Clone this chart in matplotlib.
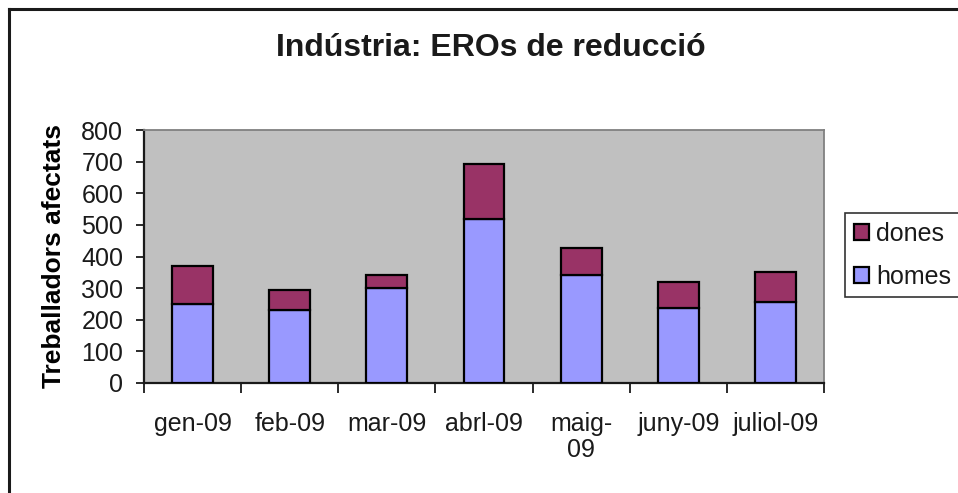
import matplotlib
matplotlib.use("Agg")
import matplotlib.pyplot as plt
import numpy as np
from matplotlib.lines import Line2D

plt.rcParams['font.family'] = ['Liberation Sans', 'DejaVu Sans']
plt.rcParams['text.color'] = '#1a1a1a'
plt.rcParams['xtick.labelcolor'] = '#1a1a1a'
plt.rcParams['ytick.labelcolor'] = '#1a1a1a'

# data
months = ["gen-09", "feb-09", "mar-09", "abrl-09", "maig-\n09", "juny-09", "juliol-09"]
homes = [251, 231, 300, 517, 340, 236, 256]
dones = [120, 63, 40, 177, 88, 84, 95]

fig = plt.figure(figsize=(9.58, 4.93), dpi=100)
ax = fig.add_axes([144 / 958, 1 - 383 / 493, 680 / 958, 253 / 493])
ax.set_facecolor("#C0C0C0")

x = np.arange(len(months))
w = 0.42
ax.bar(x, homes, w, color="#9999FF", edgecolor="black", linewidth=1.6, label="homes", zorder=3)
ax.bar(x, dones, w, bottom=homes, color="#993366", edgecolor="black", linewidth=1.6, label="dones", zorder=3)

ax.set_xlim(-0.5, len(months) - 0.5)
ax.set_ylim(0, 800)
ax.set_yticks(np.arange(0, 801, 100))
ax.tick_params(axis="y", direction="out", length=6, width=1.3, labelsize=18, pad=9, color="#1a1a1a")

# labels at centres, ticks at category boundaries
ax.set_xticks(x)
ax.set_xticklabels(months, fontsize=18, linespacing=1.1)
ax.tick_params(axis="x", which="major", length=0, pad=21)
ax.set_xticks(np.arange(-0.5, len(months)), minor=True)
ax.tick_params(axis="x", which="minor", direction="out", length=7, width=1.3, color="#1a1a1a")
for lab in ax.get_xticklabels():
    lab.set_verticalalignment("top")

for s in ["top", "right"]:
    ax.spines[s].set_color("#808080")
    ax.spines[s].set_linewidth(1.3)
for s in ["left", "bottom"]:
    ax.spines[s].set_color("#1a1a1a")
    ax.spines[s].set_linewidth(1.6)

ax.set_ylabel("Treballadors afectats", fontsize=19, fontweight="bold", labelpad=11)
fig.text(491 / 958, 1 - 48 / 493, "Indústria: EROs de reducció", fontsize=23,
         fontweight="bold", ha="center", va="center")

handles, labels = ax.get_legend_handles_labels()
leg = fig.legend(handles[::-1], labels[::-1], loc="upper left",
                 bbox_to_anchor=(845 / 958, 1 - 213 / 493), fontsize=18,
                 frameon=True, fancybox=False, edgecolor="black",
                 handlelength=0.6, handleheight=0.6, handletextpad=0.3,
                 borderpad=0.35, labelspacing=0.75, borderaxespad=0)
leg.get_frame().set_linewidth(1.2)

# outer frame, only left and top edges visible in the reference
fig.add_artist(Line2D([9 / 958, 9 / 958], [0, 1 - 9 / 493], transform=fig.transFigure,
                      color="#1a1a1a", linewidth=2.2))
fig.add_artist(Line2D([9 / 958, 1], [1 - 9 / 493, 1 - 9 / 493], transform=fig.transFigure,
                      color="#1a1a1a", linewidth=2.2))

fig.savefig("out.png", dpi=100, facecolor="white")
